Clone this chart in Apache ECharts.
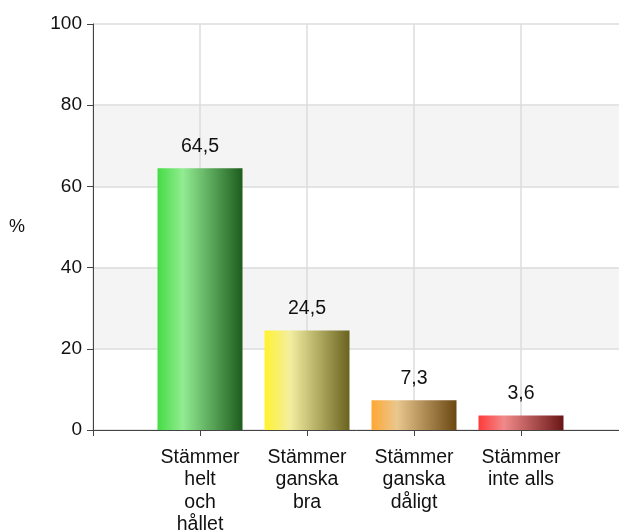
<!DOCTYPE html>
<html>
<head>
<meta charset="utf-8">
<title>Stämmer</title>
<script src="https://cdn.jsdelivr.net/npm/echarts@6/dist/echarts.min.js"></script>
<style>
  body { margin: 0; background: #fff; }
  #chart { width: 619px; height: 532px; }
</style>
</head>
<body>
<div id="chart"></div>
<script>
// kategorier (tomma platser i kanterna, som i originalet)
var categories = ['', 'Stämmer\nhelt\noch\nhållet', 'Stämmer\nganska\nbra', 'Stämmer\nganska\ndåligt', 'Stämmer\ninte alls', ''];
var values = [null, 64.5, 24.5, 7.3, 3.6, null];
var yTicks = [0, 20, 40, 60, 80, 100];

// gradient per stapel: vänster, ljus, mörk
var barColors = [
  null,
  ['#45dc45', '#92ec92', '#1d5c1d'],
  ['#fff22e', '#f3eea0', '#6a6320'],
  ['#ffa733', '#e9c78e', '#6b4812'],
  ['#ff3a3a', '#f18a8a', '#6a1616'],
  null
];

function grad(c) {
  return new echarts.graphic.LinearGradient(0, 0, 1, 0, [
    { offset: 0, color: c[0] },
    { offset: 0.3, color: c[1] },
    { offset: 1, color: c[2] }
  ]);
}

var data = values.map(function (v, i) {
  if (v === null) return null;
  return { value: v, itemStyle: { color: grad(barColors[i]) } };
});

var font = 'Arial, Liberation Sans';
var chart = echarts.init(document.getElementById('chart'));
chart.setOption({
  animation: false,
  grid: { left: 93, right: -9, top: 24, bottom: 102, outerBoundsMode: 'none', containLabel: false },
  xAxis: {
    type: 'category',
    data: categories,
    boundaryGap: false,
    axisLine: { lineStyle: { color: '#444' } },
    axisTick: { show: true, length: 6, lineStyle: { color: '#444' } },
    axisLabel: {
      color: '#111', fontSize: 19.5, fontFamily: font,
      lineHeight: 22.5, margin: 16, interval: 0
    },
    splitLine: { show: true, lineStyle: { color: '#dcdcdc', width: 1.5 } }
  },
  yAxis: {
    type: 'value',
    min: yTicks[0], max: yTicks[yTicks.length - 1], interval: 20,
    name: '%',
    nameLocation: 'middle',
    nameRotate: 0,
    nameGap: 68,
    nameTextStyle: { color: '#111', fontSize: 18, fontFamily: font },
    axisLine: { show: true, lineStyle: { color: '#444' } },
    axisTick: { show: true, length: 6, lineStyle: { color: '#444' } },
    axisLabel: { color: '#111', fontSize: 19, fontFamily: font, margin: 11 },
    splitLine: { lineStyle: { color: '#dcdcdc', width: 1.5 } },
    splitArea: { show: true, areaStyle: { color: ['#ffffff', '#f4f4f4'] } }
  },
  series: [{
    type: 'bar',
    data: data,
    barWidth: 85,
    label: {
      show: true,
      position: 'top',
      distance: 12,
      color: '#111',
      fontSize: 19.5,
      fontFamily: font,
      formatter: function (p) { return String(p.value).replace('.', ','); }
    }
  }]
});
</script>
</body>
</html>
